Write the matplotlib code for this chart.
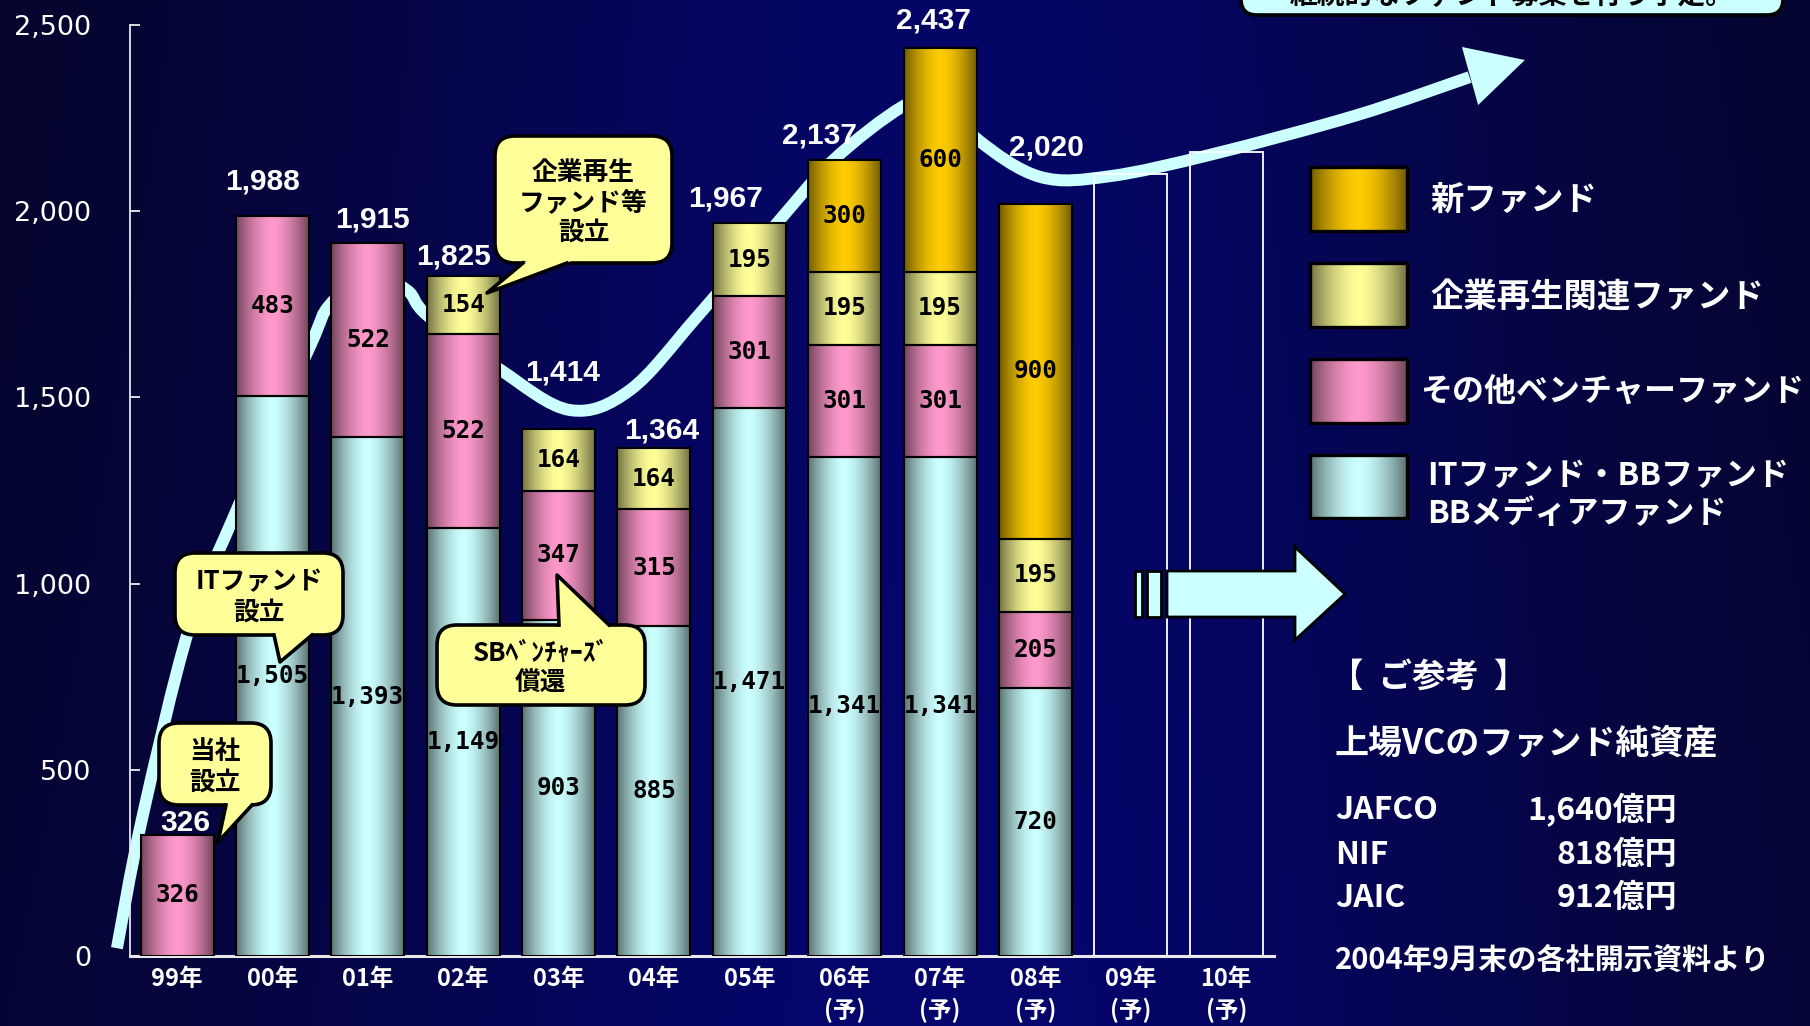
import numpy as np
import matplotlib
matplotlib.use("Agg")
import matplotlib.pyplot as plt
from matplotlib import font_manager
from matplotlib.colors import to_rgb
from matplotlib.lines import Line2D
from matplotlib.patches import FancyBboxPatch, Polygon, Rectangle, PathPatch
from matplotlib.path import Path


def pick_font(*names):
    for name in names:
        try:
            font_manager.findfont(name, fallback_to_default=False)
            return name
        except ValueError:
            pass
    return "DejaVu Sans"


JP = pick_font("Noto Sans CJK JP", "Noto Sans CJK SC")
NARROW = pick_font("Liberation Sans Narrow", "Liberation Sans", "DejaVu Sans")
plt.rcParams["font.family"] = [JP, "DejaVu Sans"]

# ファンド残高（億円）, stacked bottom to top
years = ["99年", "00年", "01年", "02年", "03年", "04年", "05年",
         "06年", "07年", "08年", "09年", "10年"]
is_plan = [False] * 7 + [True] * 5
it_bb = [0, 1505, 1393, 1149, 903, 885, 1471, 1341, 1341, 720]
other_vc = [326, 483, 522, 522, 347, 315, 301, 301, 301, 205]
rehab = [0, 0, 0, 154, 164, 164, 195, 195, 195, 195]
new_fund = [0, 0, 0, 0, 0, 0, 0, 300, 600, 900]
outlook = [2100, 2160]  # 09年・10年 (empty frames)

series_names = ["新ファンド", "企業再生関連ファンド", "その他ベンチャーファンド",
                "ITファンド・BBファンド\nBBメディアファンド"]

# trend arrow knots: x in bar slots, y in 億円
trend_x = [-0.63, -0.37, 0.12, 0.58, 1.39, 1.60, 2.02, 2.41, 2.62, 3.39,
           4.12, 4.75, 5.45, 6.29, 6.88, 7.60, 8.00, 8.40, 9.05, 9.78,
           10.87, 12.37, 13.55]
trend_y = [21, 365, 875, 1171, 1635, 1748, 1829, 1788, 1721, 1574,
           1466, 1520, 1716, 1968, 2137, 2280, 2304, 2191, 2092, 2094,
           2154, 2258, 2360]
trend_head = [(13.47, 2441), (14.13, 2406), (13.64, 2285)]

ref_names = ["JAFCO", "NIF", "JAIC"]
ref_values = [1640, 818, 912]

# label nudges for the totals (px right, px up)
total_nudge = [(8, 12), (-10, 34), (5, 23), (-10, 20), (4, 57), (8, 18),
               (-24, 25), (-25, 25), (-7, 28), (11, 56)]

CYAN, PINK, LEMON, GOLD = "#ccffff", "#ff99cc", "#ffff99", "#ffcc00"
W, H = 1810, 1026
BAR_W = 0.765
PT = 72 / 100  # points per pixel


def shade(color, n=96):
    c = np.array(to_rgb(color))
    u = np.linspace(0, 1, n)
    k = 0.45 + 0.55 * (1 - np.abs(2 * u - 1) ** 1.6)
    return np.clip(c[None, :] * k[:, None], 0, 1)[None, :, :]


fig = plt.figure(figsize=(W / 100, H / 100), dpi=100)

# navy backdrop
bg = fig.add_axes([0, 0, 1, 1], zorder=0)
gx = np.linspace(0, 1, 200)
gy = np.linspace(0, 1, 60)
GX, GY = np.meshgrid(gx, gy)
blue = 0.15 + 0.25 * np.exp(-((GX - 0.52) / 0.36) ** 2) + 0.03 * GY
img = np.dstack([0.02 * np.ones_like(GX), 0.02 * np.ones_like(GX), blue])
bg.imshow(img, extent=(0, 1, 0, 1), aspect="auto", interpolation="bilinear")
bg.axis("off")

ax = fig.add_axes([130 / W, (H - 956) / H, (1274 - 130) / W, (956 - 25) / H], zorder=2)
ax.set_facecolor("none")

x = np.arange(len(it_bb))
bottom = np.zeros(len(it_bb))
for vals, col in [(it_bb, CYAN), (other_vc, PINK), (rehab, LEMON), (new_fund, GOLD)]:
    vals = np.array(vals, dtype=float)
    bars = ax.bar(x, vals, BAR_W, bottom=bottom, facecolor="none",
                  edgecolor="black", linewidth=1.5, zorder=4)
    for rect, v, b in zip(bars, vals, bottom):
        if v <= 0:
            rect.set_visible(False)
            continue
        x0 = rect.get_x()
        im = ax.imshow(shade(col), extent=(x0, x0 + BAR_W, b, b + v),
                       aspect="auto", interpolation="bilinear", zorder=3)
        im.set_clip_path(rect)
        ax.text(x0 + BAR_W / 2, b + v / 2, f"{int(v):,}", ha="center", va="center",
                fontsize=17.5, fontweight="bold", family=["DejaVu Sans Mono"],
                color="black", zorder=6)
    bottom += vals

totals = bottom
for i, tot in enumerate(totals):
    dx, dy = total_nudge[i]
    ax.annotate(f"{int(tot):,}", (i, tot), xytext=(dx * PT, dy * PT),
                textcoords="offset points", ha="center", va="center",
                fontsize=21.5, fontweight="bold", family=[NARROW],
                color="white", zorder=6)

# future years as empty frames
ax.bar(np.arange(len(it_bb), len(years)), outlook, BAR_W, facecolor="none",
       edgecolor="white", linewidth=1.3, zorder=4)

# trend arrow behind the bars (Catmull-Rom through the knots)
pts = np.column_stack([trend_x, trend_y])
verts, codes = [pts[0]], [Path.MOVETO]
for i in range(len(pts) - 1):
    p0 = pts[i - 1] if i > 0 else pts[i]
    p1, p2 = pts[i], pts[i + 1]
    p3 = pts[i + 2] if i + 2 < len(pts) else pts[i + 1]
    verts += [p1 + (p2 - p0) / 6, p2 - (p3 - p1) / 6, p2]
    codes += [Path.CURVE4] * 3
ax.add_patch(PathPatch(Path(verts, codes), fill=False, edgecolor=CYAN,
                       linewidth=8.6, capstyle="butt", clip_on=False, zorder=1))
ax.add_patch(Polygon(trend_head, closed=True, facecolor=CYAN, edgecolor="none",
                     clip_on=False, zorder=1))

ax.set_xlim(-0.493, 11.5)
ax.set_ylim(0, 2500)
ax.set_yticks(range(0, 2501, 500))
ax.set_yticklabels([f"{v:,}" for v in range(0, 2501, 500)], fontsize=19.5,
                   family=["DejaVu Sans"], color="white")
ax.tick_params(axis="y", direction="in", length=7, width=1.2, colors="white", pad=28)
ax.set_xticks(np.arange(len(years)))
ax.set_xticklabels([y + ("\n(予)" if p else "") for y, p in zip(years, is_plan)],
                   fontsize=17, fontweight="bold", color="white", linespacing=1.35)
ax.tick_params(axis="x", length=0, pad=8)
for side in ("top", "right"):
    ax.spines[side].set_visible(False)
ax.spines["left"].set_color("#e8e8e8")
ax.spines["left"].set_linewidth(1.3)
ax.spines["bottom"].set_color("#e8e8e8")
ax.spines["bottom"].set_linewidth(2.2)

# annotation layer in pixel coordinates
ov = fig.add_axes([0, 0, 1, 1], zorder=5)
ov.set_xlim(0, W)
ov.set_ylim(H, 0)
ov.axis("off")
ov.patch.set_alpha(0)


def callout(box, tail, text):
    x0, y0, x1, y1 = box
    ov.add_patch(FancyBboxPatch((x0, y0), x1 - x0, y1 - y0,
                                boxstyle="round,pad=0,rounding_size=20",
                                facecolor=LEMON, edgecolor="black", linewidth=2.6, zorder=1))
    b1, tip, b2 = (np.array(p, dtype=float) for p in tail)
    mid = (b1 + b2) / 2
    inward = (mid - tip) / np.hypot(*(mid - tip)) * 6
    ov.add_patch(Polygon([b1 + inward, b1, tip, b2, b2 + inward], closed=True,
                         facecolor=LEMON, edgecolor="none", zorder=2))
    ov.add_line(Line2D([b1[0], tip[0], b2[0]], [b1[1], tip[1], b2[1]],
                       color="black", linewidth=2.6, zorder=3))
    ov.text((x0 + x1) / 2, (y0 + y1) / 2 + 3, text, ha="center", va="center",
            fontsize=18.5, fontweight="bold", color="black", linespacing=1.15, zorder=4)


callout((159, 723, 271, 805), [(226, 805), (218, 842), (252, 805)], "当社\n設立")
callout((175, 553, 343, 635), [(274, 635), (280, 662), (312, 635)], "ITファンド\n設立")
callout((495, 136, 672, 263), [(523, 263), (487, 293), (567, 263)], "企業再生\nファンド等\n設立")
callout((437, 625, 645, 705), [(559, 625), (557, 575), (609, 625)], "SBﾍﾞﾝﾁｬｰｽﾞ\n償還")

# banner at the top edge
ov.add_patch(FancyBboxPatch((1241, -40), 542, 55, boxstyle="round,pad=0,rounding_size=16",
                            facecolor=CYAN, edgecolor="black", linewidth=2.6, zorder=1))
ov.text(1512, -4, "継続的なファンド募集を行う予定。", ha="center", va="center",
        fontsize=20, fontweight="bold", color="black", zorder=2)

# legend
legend_rows = [(167, 231, 1430, 200, 24), (263, 327, 1430, 297, 24),
               (359, 423, 1420, 392, 23), (455, 518, 1427, 495, 23)]
for (top, bot, tx, ty, fs), name, col in zip(legend_rows, series_names,
                                             [GOLD, LEMON, PINK, CYAN]):
    ov.imshow(shade(col), extent=(1310, 1407, bot, top), aspect="auto",
              interpolation="bilinear", zorder=1)
    ov.add_patch(Rectangle((1310, top), 97, bot - top, facecolor="none",
                           edgecolor="black", linewidth=2.4, zorder=2))
    ov.text(tx, ty, name, ha="left", va="center", fontsize=fs, fontweight="bold",
            color="white", linespacing=1.25, zorder=2)

# block arrow pointing to the reference figures
for sx, sw in [(1135, 7), (1147, 14)]:
    ov.add_patch(Rectangle((sx, 571), sw, 46, facecolor=CYAN, edgecolor="black",
                           linewidth=2, zorder=1))
ov.add_patch(Polygon([(1167, 571), (1295, 571), (1295, 547), (1345, 594),
                      (1295, 640), (1295, 617), (1167, 617)], closed=True,
                     facecolor=CYAN, edgecolor="black", linewidth=2, zorder=1))

ov.text(1330, 677, "【  ご参考  】", ha="left", va="center", fontsize=24,
        fontweight="bold", color="white")
ov.text(1335, 743, "上場VCのファンド純資産", ha="left", va="center", fontsize=24.5,
        fontweight="bold", color="white")
for ry, name, val in zip([810, 855, 898], ref_names, ref_values):
    ov.text(1335, ry, name, ha="left", va="center", fontsize=23,
            fontweight="bold", color="white")
    ov.text(1677, ry, f"{val:,}億円", ha="right", va="center", fontsize=23,
            fontweight="bold", color="white")
ov.text(1335, 960, "2004年9月末の各社開示資料より", ha="left", va="center",
        fontsize=21, fontweight="bold", color="white")

fig.savefig("out.png", dpi=100)
